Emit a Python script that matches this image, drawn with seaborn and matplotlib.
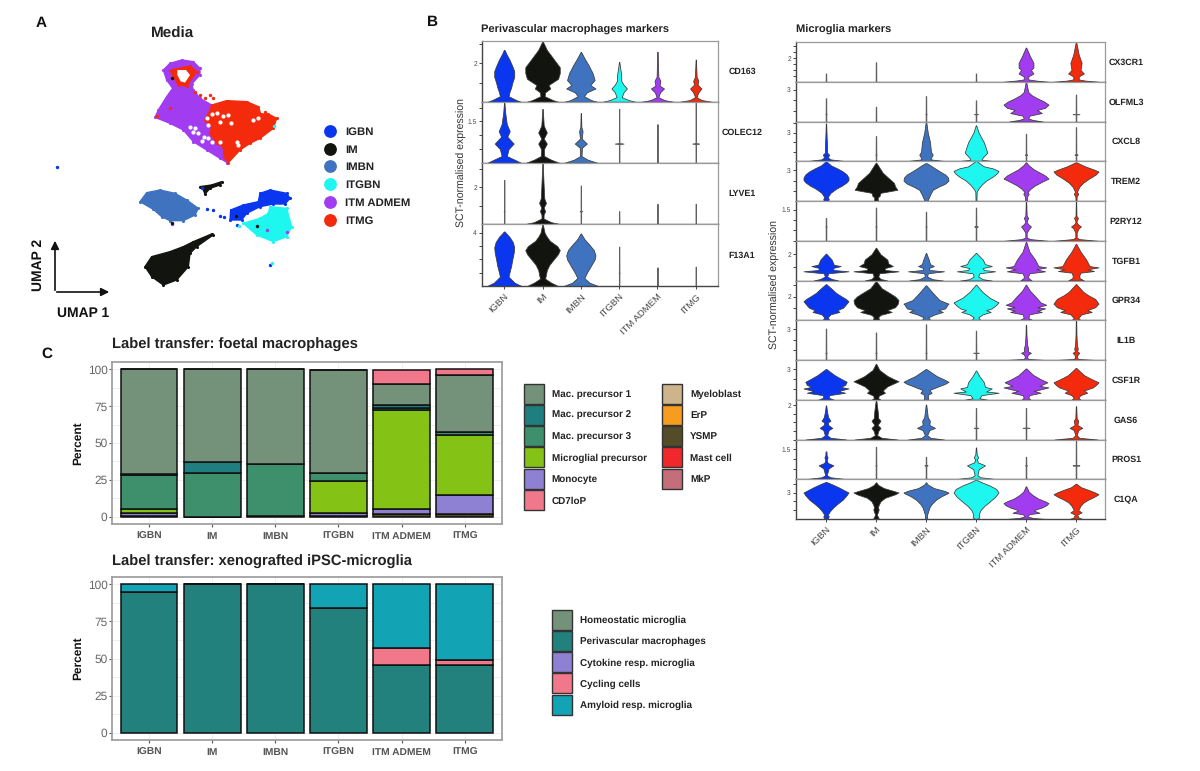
import numpy as np
import pandas as pd
import seaborn as sns
import matplotlib.pyplot as plt
from matplotlib.patches import Rectangle

W, H = 1200, 771

clusters = ["IGBN", "IM", "IMBN", "ITGBN", "ITM ADMEM", "ITMG"]
cluster_colors = ["#0A36F0", "#12140F", "#3F73BF", "#1EF7F0", "#A23CF0", "#F42A0C"]

# --- panel A, cluster outlines (UMAP units are arbitrary)
purple_body = [(430,180),(450,160),(485,150),(520,155),(540,175),(540,195),(515,222),(520,240),(540,265),(575,285),
               (585,320),(570,345),(575,385),(600,405),(618,430),(622,458),(600,445),(560,420),(520,395),(490,360),
               (450,340),(405,322),(415,300),(440,260),(458,235),(440,210)]
red_body = [(575,285),(620,272),(680,275),(715,290),(722,312),(745,312),(770,325),(760,355),(720,385),(690,400),
            (660,420),(625,458),(612,440),(610,410),(590,400),(570,370),(575,350),(555,330),(570,300)]
red_ring = [(450,180),(510,168),(530,185),(500,228),(475,225),(460,200)]
ring_hole = [(472,180),(498,180),(510,195),(495,218),(482,214),(472,195)]
imbn_body = [(360,575),(380,548),(420,540),(465,550),(500,570),(535,595),(525,615),(490,632),(450,632),(425,620),(400,598)]
im_small = [(540,530),(575,525),(605,515),(600,525),(570,535),(555,552),(548,535)]
igbn_body = [(720,550),(750,540),(800,550),(810,565),(795,582),(760,582),(720,590),(680,610),(665,630),(630,630),(632,600),(670,585),(715,575)]
itgbn_body = [(750,590),(800,595),(815,650),(800,680),(760,695),(710,675),(670,640),(720,625),(745,610)]
im_body = [(375,770),(395,740),(450,725),(490,710),(520,695),(575,672),(578,676),(530,710),(510,730),(505,770),(470,810),(430,825),(395,800)]

white_specks = [(510,350),(525,355),(518,365),(535,370),(552,380),(545,392),(565,385),(575,395),(560,325),(575,312),
                (590,310),(610,318),(625,315),(600,335),(632,340),(565,345),(655,405),(650,395),(600,395),(700,330),(715,325)]
stray_red = [(525,245),(540,255),(555,265),(570,255),(580,265),(735,305),(410,318),(450,295)]
stray_blue = [(110,470),(750,765),(600,618),(612,620),(580,600),(560,598),(650,645),(545,535)]
stray_cyan = [(755,758),(762,348),(795,598),(658,648)]
stray_purple = [(455,642),(800,665),(740,660),(450,175)]
stray_dark = [(455,205),(455,638),(648,618),(710,647)]


# --- panel B, violin outlines as (expression level, relative width)
def thin(top, tick=None, w=0.1):
    if tick is None:
        return [(0, 0.012), (top, 0.008)]
    return [(0, 0.012), (tick - 0.02, 0.012), (tick, w), (tick + 0.02, 0.012), (top, 0.008)]


cd163 = [[(0,1),(.1,.7),(.3,.25),(.5,.3),(.75,.4),(1,.47),(1.3,.58),(1.6,.58),(1.9,.45),(2.2,.3),(2.5,.12),(2.7,.02)],
         [(0,.95),(.1,.6),(.3,.12),(.5,.15),(.7,.45),(.88,.35),(1.2,.9),(1.5,1),(1.8,1),(2.1,.75),(2.4,.5),(2.7,.25),(3.15,.01)],
         [(0,1),(.1,.6),(.3,.18),(.5,.35),(.7,.85),(.88,.55),(1.14,.8),(1.5,.68),(1.9,.45),(2.2,.25),(2.6,.01)],
         [(0,1),(.1,.55),(.25,.15),(.5,.25),(.7,.45),(.9,.25),(1.1,.12),(1.4,.12),(1.7,.07),(2.08,.01)],
         [(0,1),(.1,.4),(.25,.05),(.5,.15),(.7,.38),(.85,.12),(1.1,.17),(1.3,.05),(2.6,.01)],
         [(0,1),(.1,.35),(.25,.04),(.5,.15),(.7,.33),(.9,.1),(1.1,.15),(1.3,.05),(2.2,.01)]]
colec12 = [[(0,1),(.12,.6),(.25,.15),(.5,.25),(.7,.55),(.95,.18),(1.15,.32),(1.4,.15),(1.8,.06),(2.2,.01)],
           [(0,1),(.12,.5),(.25,.1),(.5,.08),(.7,.25),(.88,.07),(1.1,.25),(1.35,.07),(1.95,.01)],
           [(0,1),(.12,.4),(.25,.04),(.55,.06),(.7,.35),(.88,.05),(1.15,.1),(1.3,.03),(1.8,.01)],
           thin(1.95, .7, .25), thin(1.4, .7, .03), thin(2.2, .7, .2)]
lyve1 = [thin(2.4, .7, .03),
         [(0,1),(.1,.5),(.3,.06),(.5,.06),(.7,.15),(.9,.07),(1.15,.2),(1.4,.1),(2.2,.06),(3.3,.01)],
         thin(2.1, .7, .07), thin(.7), thin(1.1), thin(1.1)]
f13a1 = [[(0,1),(.25,.6),(.7,.25),(1,.3),(1.5,.4),(2,.47),(2.5,.55),(2.9,.58),(3.3,.5),(3.7,.3),(3.95,.12),(4.1,.02)],
         [(0,.9),(.25,.5),(.55,.15),(1.2,.25),(1.6,.4),(2,.65),(2.4,.9),(2.7,1),(3,.85),(3.4,.42),(3.7,.25),(4,.12),(4.66,.01)],
         [(0,1),(.25,.5),(.6,.2),(1,.35),(1.5,.58),(2,.8),(2.3,.85),(2.7,.75),(3.1,.5),(3.5,.22),(3.95,.01)],
         thin(2.95, 1, .03), thin(1.4), thin(1.45)]

cx3cr1 = [thin(.7), thin(1.65), [], thin(.7),
          [(0,1),(.1,.45),(.2,.1),(.45,.1),(.7,.33),(1,.22),(1.2,.33),(1.6,.33),(2.2,.17),(2.9,.01)],
          [(0,1),(.1,.4),(.2,.12),(.45,.12),(.7,.35),(1,.2),(1.6,.25),(2.3,.12),(3.37,.01)]]
olfml3 = [thin(2.2, .7, .03), thin(1.4), thin(2.4, .7, .03), thin(2, .7, .08),
          [(0,.75),(.15,.3),(.3,.1),(.55,.15),(.8,.7),(1.1,.5),(1.3,.85),(1.6,1),(1.9,.8),(2.2,.5),(2.5,.25),(2.8,.1),(3.77,.01)],
          thin(2.55, .7, .15)]
cxcl8 = [[(0,.9),(.2,.2),(.4,.08),(.7,.14),(.9,.05),(1.5,.05),(2.5,.03),(4,.01)],
         thin(2.65, .7, .03),
         [(0,.9),(.2,.2),(.5,.25),(.7,.3),(1,.22),(2,.18),(3,.08),(4.2,.01)],
         [(0,.85),(.15,.25),(.4,.3),(.9,.5),(1.3,.45),(2,.35),(3,.12),(3.8,.01)],
         thin(2.9, .7, .05), thin(3.6, .7, .07)]
trem2 = [[(0,.1),(.2,.12),(.4,.08),(.8,.2),(1.2,.45),(1.5,.7),(1.8,.9),(2.05,1),(2.3,1),(2.6,.92),(2.9,.75),(3.2,.5),(3.5,.22),(3.9,.01)],
         [(0,.1),(.15,.08),(.4,.08),(.45,.15),(.8,.2),(1.1,.95),(1.43,.85),(1.77,.8),(2.17,.6),(2.77,.3),(3.77,.01)],
         [(0,.06),(.3,.12),(.7,.2),(1.1,.3),(1.4,.55),(1.7,.85),(2,1),(2.3,.98),(2.6,.85),(2.9,.62),(3.2,.4),(3.7,.05)],
         [(0,.02),(.9,.03),(1.2,.1),(1.6,.25),(2,.45),(2.4,.75),(2.7,.92),(2.95,1),(3.2,.75),(3.4,.35),(3.6,.22),(3.95,.01)],
         [(0,.04),(.45,.05),(.7,.12),(.9,.07),(1.2,.2),(1.5,.38),(1.9,.72),(2.2,1),(2.5,.85),(2.8,.6),(3.1,.35),(3.5,.12),(3.8,.01)],
         [(0,.02),(.45,.03),(.7,.1),(.9,.04),(1.4,.15),(1.8,.32),(2.2,.58),(2.6,.88),(2.9,1),(3.1,.78),(3.4,.4),(3.8,.02)]]
p2ry12 = [thin(1.1, .69, .03), thin(1.6, .69, .03), thin(1.4, .69, .03), thin(1.6, .69, .08),
          [(0,.95),(.08,.2),(.15,.03),(.4,.03),(.6,.15),(.69,.22),(.8,.1),(.9,.03),(1,.05),(1.1,.1),(1.2,.03),(1.9,.01)],
          [(0,.95),(.08,.15),(.15,.03),(.4,.03),(.6,.12),(.69,.22),(.8,.08),(.9,.02),(1,.04),(1.1,.09),(1.2,.02),(1.9,.01)]]
tgfb1 = [[(0,.55),(.12,.25),(.3,.05),(.55,.1),(.7,1),(.8,.35),(.95,.3),(1.1,.65),(1.2,.35),(1.6,.25),(2.05,.01)],
         [(0,.5),(.12,.2),(.3,.1),(.55,.15),(.7,1),(.8,.4),(.95,.4),(1.1,.75),(1.3,.55),(1.6,.5),(2,.2),(2.5,.01)],
         [(0,.75),(.1,.3),(.3,.05),(.55,.08),(.7,.8),(.8,.15),(.95,.12),(1.1,.35),(1.25,.18),(1.6,.12),(2.1,.01)],
         [(0,.7),(.1,.3),(.3,.1),(.55,.15),(.7,.85),(.8,.35),(.95,.3),(1.1,.7),(1.25,.4),(1.6,.3),(2.1,.01)],
         [(0,.25),(.2,.1),(.35,.1),(.55,.15),(.7,.85),(.85,.45),(1,.9),(1.1,.55),(1.6,.4),(2.2,.15),(2.95,.01)],
         [(0,.35),(.2,.15),(.4,.15),(.6,.2),(.72,.8),(.85,.5),(1,1),(1.1,.6),(1.6,.45),(2.2,.2),(2.8,.01)]]
gpr34 = [[(0,.15),(.25,.08),(.5,.2),(.7,.6),(.85,.5),(1.05,.75),(1.25,.85),(1.6,1),(1.8,.88),(2,.7),(2.3,.45),(2.6,.28),(3.05,.01)],
         [(0,.15),(.25,.1),(.45,.2),(.7,.7),(.85,.5),(1.1,.85),(1.4,.97),(1.7,1),(2,.85),(2.3,.6),(2.7,.25),(3.3,.01)],
         [(0,.2),(.25,.1),(.5,.4),(.7,.75),(.85,.55),(1,.85),(1.3,.95),(1.4,1),(1.7,.6),(2.2,.35),(2.95,.01)],
         [(0,.2),(.25,.1),(.5,.3),(.7,.65),(.85,.45),(1,.7),(1.3,.9),(1.5,1),(1.9,.6),(2.4,.28),(3,.01)],
         [(0,.3),(.2,.1),(.5,.15),(.7,.7),(.8,.5),(1,.85),(1.1,.5),(1.3,.9),(1.5,.65),(2,.42),(2.5,.17),(3,.01)],
         [(0,.2),(.2,.1),(.5,.25),(.7,.7),(.85,.5),(1.1,.85),(1.4,1),(1.8,.85),(2.1,.55),(2.4,.32),(3.05,.01)]]
il1b = [thin(3.08, .7, .03), thin(2.7, .7, .03), thin(3.5, .7, .03), thin(2.87, .7, .12),
        [(0,.9),(.1,.1),(.3,.04),(.55,.1),(.7,.22),(.85,.08),(1.1,.1),(1.5,.05),(2.5,.02),(3.45,.01)],
        [(0,.9),(.1,.1),(.3,.03),(.55,.08),(.7,.15),(.85,.05),(1.1,.08),(1.5,.04),(2.5,.02),(3.9,.01)]]
csf1r = [[(0,.35),(.2,.12),(.45,.15),(.68,.85),(.85,.55),(1.1,1),(1.25,.65),(1.45,.85),(1.75,.92),(2,.7),(2.4,.38),(3,.01)],
         [(0,.2),(.15,.1),(.4,.12),(.68,.4),(.9,.3),(1.3,.5),(1.6,.8),(1.8,1),(2,.8),(2.3,.52),(2.9,.15),(3.5,.01)],
         [(0,.1),(.3,.08),(.5,.1),(.68,.25),(.95,.15),(1.3,.55),(1.55,.85),(1.75,1),(2,.78),(2.3,.48),(3,.01)],
         [(0,.5),(.15,.15),(.45,.25),(.68,1),(.8,.45),(1.1,.7),(1.25,.4),(1.7,.35),(2.3,.15),(2.85,.01)],
         [(0,.2),(.2,.1),(.45,.15),(.68,.65),(.85,.35),(1.2,1),(1.35,.6),(1.7,.95),(2,.65),(2.4,.33),(3.05,.01)],
         [(0,.2),(.2,.1),(.45,.2),(.68,.5),(.9,.35),(1.2,.75),(1.5,.92),(1.7,1),(2,.7),(2.4,.35),(3.1,.01)]]
gas6 = [[(0,.9),(.1,.2),(.25,.05),(.55,.12),(.68,.28),(.85,.1),(1,.08),(1.1,.2),(1.3,.1),(1.6,.05),(2,.01)],
        [(0,.95),(.1,.25),(.25,.05),(.5,.1),(.68,.2),(.85,.07),(1.1,.2),(1.25,.1),(1.6,.08),(2.33,.01)],
        [(0,.8),(.1,.2),(.25,.05),(.55,.15),(.68,.4),(.85,.15),(1.1,.17),(1.3,.08),(2.05,.01)],
        thin(1.85, .68, .1), thin(1.85, .68, .15),
        [(0,.95),(.1,.15),(.25,.03),(.55,.1),(.68,.28),(.85,.06),(1.1,.1),(1.25,.03),(1.95,.01)]]
pros1 = [[(0,.95),(.1,.2),(.2,.03),(.55,.12),(.7,.33),(.82,.08),(.95,.03),(1.1,.07),(1.2,.03),(1.4,.02)],
         thin(1.63, .7, .03), thin(1.13, .7, .07),
         [(0,.95),(.1,.2),(.2,.06),(.5,.12),(.7,.4),(.85,.08),(1,.03),(1.1,.1),(1.25,.03),(1.6,.01)],
         thin(1.13, .7, .04), thin(2, .7, .15)]
c1qa = [[(0,.08),(.3,.12),(.5,.08),(.9,.18),(1.3,.32),(1.7,.5),(2.2,.75),(2.7,.92),(3,1),(3.2,.85),(3.6,.55),(3.95,.25),(4.2,.01)],
        [(0,.15),(.15,.1),(.5,.04),(.9,.1),(1.1,.12),(1.3,.08),(1.6,.12),(2,.2),(2.4,.4),(2.8,.85),(3,1),(3.2,.75),(3.5,.35),(3.85,.1),(4.15,.01)],
        [(0,.05),(.5,.05),(.9,.1),(1.3,.15),(1.7,.25),(2.2,.45),(2.6,.7),(2.9,.95),(3,1),(3.2,.8),(3.5,.35),(3.9,.08),(4.15,.01)],
        [(0,.05),(.2,.15),(.5,.12),(1,.2),(1.5,.38),(2,.62),(2.5,.85),(3,1),(3.4,.9),(3.8,.6),(4.1,.3),(4.45,.01)],
        [(0,.9),(.12,.3),(.3,.05),(.55,.15),(.7,.6),(.95,.35),(1.05,.4),(1.3,.7),(1.55,.9),(1.8,1),(2,.85),(2.3,.55),(2.7,.3),(3.1,.12),(3.7,.01)],
        [(0,.3),(.15,.12),(.5,.05),(.75,.25),(1,.1),(1.5,.2),(1.9,.35),(2.2,.55),(2.5,.8),(2.8,1),(3,.85),(3.3,.55),(3.6,.22),(4,.01)]]

# name, labelled tick, tick step, top of the axis, violins
pvm_rows = [("CD163", 2, 1, 3.16, cd163), ("COLEC12", 1.5, .5, 2.2, colec12),
            ("LYVE1", 2, 1, 3.33, lyve1), ("F13A1", 4, 1, 4.66, f13a1)]
mg_rows = [("CX3CR1", 2, .5, 3.37, cx3cr1), ("OLFML3", 3, 1, 3.77, olfml3), ("CXCL8", 3, 1, 4.2, cxcl8),
           ("TREM2", 3, 1, 3.9, trem2), ("P2RY12", 1.5, .5, 1.92, p2ry12), ("TGFB1", 2, 1, 3.03, tgfb1),
           ("GPR34", 2, 1, 3.35, gpr34), ("IL1B", 3, 1, 3.9, il1b), ("CSF1R", 3, 1, 3.87, csf1r),
           ("GAS6", 2, .5, 2.33, gas6), ("PROS1", 1.5, .5, 2.0, pros1), ("C1QA", 3, 1, 4.5, c1qa)]

# --- panel C
foetal_types = ["CD7loP", "Mac. precursor 1", "Mac. precursor 2", "Mac. precursor 3",
                "Microglial precursor", "Monocyte", "YSMP"]
cd7lop = [0, 0, 0, 0, 9.7, 4]
mac1 = [71.3, 63, 64, 70, 14.5, 38.2]
mac2 = [0.2, 7.7, 0.5, 0, 1.8, 0.5]
mac3 = [23, 29.3, 35, 5.7, 1.7, 1.8]
micro_prec = [2.8, 0, 0, 21.7, 67, 41]
monocyte = [2.2, 0, 0, 1.9, 3.7, 13]
ysmp = [0.5, 0, 0.5, 0.4, 1.5, 1.5]

xeno_types = ["Amyloid resp. microglia", "Cycling cells", "Perivascular macrophages"]
amyloid = [5, 0, 0, 16, 43, 50.8]
cycling = [0, 0, 0, 0, 11.5, 3.7]
pvm = [95, 100, 100, 84, 45.5, 45.5]

foetal_legend = [("Mac. precursor 1", "#739279"), ("Mac. precursor 2", "#1F7F80"), ("Mac. precursor 3", "#3E8F6C"),
                 ("Microglial precursor", "#84C315"), ("Monocyte", "#8E81D3"), ("CD7loP", "#F1788B")]
foetal_legend2 = [("Myeloblast", "#CDB48A"), ("ErP", "#F89C1F"), ("YSMP", "#544C27"),
                  ("Mast cell", "#F1282B"), ("MkP", "#C46E7C")]
xeno_legend = [("Homeostatic microglia", "#739279"), ("Perivascular macrophages", "#22807D"),
               ("Cytokine resp. microglia", "#8E81D3"), ("Cycling cells", "#F1788B"),
               ("Amyloid resp. microglia", "#12A3B5")]

sns.set_theme(style="white")
plt.rcParams["font.family"] = ["Liberation Sans", "DejaVu Sans"]
plt.rcParams["text.hinting"] = "no_hinting"

fig = plt.figure(figsize=(W / 100, H / 100), dpi=100)


def px_axes(x0, y0, x1, y1):
    return fig.add_axes([x0 / W, 1 - y1 / H, (x1 - x0) / W, (y1 - y0) / H])


# overlay in picture pixels for the annotation text and legends
over = px_axes(0, 0, W, H)
over.set_xlim(0, W)
over.set_ylim(H, 0)
over.axis("off")
over.set_zorder(5)
over.patch.set_alpha(0)

# panel A
umap = px_axes(20, 10, 440, 330)
umap.set_xlim(0, 1260)
umap.set_ylim(960, 0)
umap.axis("off")
for outline, col in [(purple_body, cluster_colors[4]), (red_body, cluster_colors[5]), (red_ring, cluster_colors[5]),
                     (imbn_body, cluster_colors[2]), (im_small, cluster_colors[1]), (igbn_body, cluster_colors[0]),
                     (itgbn_body, cluster_colors[3]), (im_body, cluster_colors[1])]:
    xy = np.array(outline)
    umap.fill(xy[:, 0], xy[:, 1], color=col, lw=1)
    sns.scatterplot(x=xy[:, 0], y=xy[:, 1], color=col, s=5, linewidth=0, ax=umap, legend=False)
xy = np.array(ring_hole)
umap.fill(xy[:, 0], xy[:, 1], color="white", lw=0, zorder=3)
xy = np.array(white_specks)
sns.scatterplot(x=xy[:, 0], y=xy[:, 1], color="white", s=9, linewidth=0, ax=umap, legend=False, zorder=3)
for pts, col in [(stray_red, 5), (stray_blue, 0), (stray_cyan, 3), (stray_purple, 4), (stray_dark, 1)]:
    xy = np.array(pts)
    sns.scatterplot(x=xy[:, 0], y=xy[:, 1], color=cluster_colors[col], s=6, linewidth=0, ax=umap,
                    legend=False, zorder=4)

over.text(41, 23, "A", fontsize=11, fontweight="bold", ha="center", va="center", color="#111111")
over.text(432, 22, "B", fontsize=11, fontweight="bold", ha="center", va="center", color="#111111")
over.text(47, 354, "C", fontsize=11, fontweight="bold", ha="center", va="center", color="#111111")
over.text(173, 34, "Media", fontsize=11, fontweight="bold", ha="center", va="center", color="#222222")
for i, (name, col) in enumerate(zip(clusters, cluster_colors)):
    y = 131 + i * 17.7
    over.scatter([330], [y], s=85, color=col, linewidth=0)
    over.text(345, y + 4, name, fontsize=8.2, fontweight="bold", va="baseline", color="#222222")
over.annotate("", xy=(55, 238), xytext=(55, 293), arrowprops=dict(arrowstyle="-|>", color="#111111", lw=1.2))
over.annotate("", xy=(112, 292), xytext=(54, 292), arrowprops=dict(arrowstyle="-|>", color="#111111", lw=1.2))
over.text(38, 265, "UMAP 2", fontsize=10, fontweight="bold", rotation=90, ha="center", va="center", color="#111111")
over.text(83, 313, "UMAP 1", fontsize=10, fontweight="bold", ha="center", va="center", color="#111111")


# panel B
def draw_stack(rows, x0, x1, y_edges, xlim, name_x, max_half):
    axes = []
    for k, (gene, tick, step, top, violins) in enumerate(rows):
        ax = px_axes(x0, y_edges[k], x1, y_edges[k + 1])
        for i, profile in enumerate(violins):
            if not profile:
                continue
            lev = np.array([p[0] for p in profile])
            wid = np.array([p[1] for p in profile]) * max_half
            if wid[0] < 0.02 * max_half:
                ax.fill_betweenx(lev, i - wid, i + wid, color="#606060", lw=0.7)
            else:
                ax.fill_betweenx(lev, i - wid, i + wid, facecolor=cluster_colors[i], edgecolor="#3a3a3a", lw=0.55)
        ax.set_xlim(*xlim)
        ax.set_ylim(0, top)
        ticks = np.arange(step, top + 1e-6, step)
        ax.set_yticks(ticks)
        ax.set_yticklabels([f"{t:g}" if abs(t - tick) < 1e-6 else "" for t in ticks], fontsize=4.8, color="#444444")
        ax.tick_params(axis="y", length=2.2, width=0.7, color="#444444", pad=1.5, left=True)
        ax.set_xticks(range(6))
        ax.set_xticklabels([])
        ax.tick_params(axis="x", length=0)
        for side in ["top", "right"]:
            ax.spines[side].set_color("#9a9a9a")
            ax.spines[side].set_linewidth(0.9)
        for side in ["left", "bottom"]:
            ax.spines[side].set_color("#444444")
            ax.spines[side].set_linewidth(1.0)
        over.text(name_x, (y_edges[k] + y_edges[k + 1]) / 2 + 0.5, gene, fontsize=6.4, fontweight="bold",
                  ha="center", va="center", color="#222222")
        axes.append(ax)
    last = axes[-1]
    last.tick_params(axis="x", length=2.5, width=0.7, color="#444444", pad=2, bottom=True)
    last.set_xticklabels(clusters, rotation=45, ha="right", rotation_mode="anchor", fontsize=6.8, color="#444444")
    return axes


draw_stack(pvm_rows, 482, 718, [41, 102, 163, 224, 286], (-0.58, 5.58), 742, 0.45)
draw_stack(mg_rows, 796, 1105, np.linspace(42, 519, 13), (-0.6, 5.58), 1126, 0.45)
over.text(481, 30, "Perivascular macrophages markers", fontsize=8, fontweight="bold", va="center", color="#222222")
over.text(796, 30, "Microglia markers", fontsize=8, fontweight="bold", va="center", color="#222222")
over.text(462, 163, "SCT-normalised expression", fontsize=7.6, rotation=90, ha="center", va="center", color="#333333")
over.text(775, 285, "SCT-normalised expression", fontsize=7.6, rotation=90, ha="center", va="center", color="#333333")


# panel C
def stacked(values, types, colors, box, title, title_y):
    rows = []
    for name, vals in zip(types, values):
        for cl, v in zip(clusters, vals):
            if v > 0:
                rows.append({"cluster": cl, "type": name, "percent": v})
    df = pd.DataFrame(rows)
    df["cluster"] = pd.Categorical(df["cluster"], categories=clusters, ordered=True)
    ax = px_axes(*box)
    sns.histplot(data=df, x="cluster", hue="type", weights="percent", hue_order=types, palette=colors,
                 multiple="stack", discrete=True, shrink=0.9, edgecolor="#101010", linewidth=1.1, alpha=1,
                 legend=False, ax=ax)
    ax.set_xlim(-0.586, 5.59)
    ax.set_ylim(-5, 105)
    ax.set_yticks([0, 25, 50, 75, 100])
    ax.set_yticks([12.5, 37.5, 62.5, 87.5], minor=True)
    ax.set_xticks(range(6))
    ax.set_xticklabels([])
    # baseline anchored so every cluster name sits on the same line
    for i, name in enumerate(clusters):
        ax.annotate(name, xy=(i, 0), xycoords=("data", "axes fraction"), xytext=(0, -15),
                    textcoords="offset pixels", ha="center", va="baseline", fontsize=7.4,
                    fontweight="bold", color="#555555", annotation_clip=False)
    ax.tick_params(axis="y", labelsize=8.6, labelcolor="#666666", length=2.2, width=0.8, color="#555555", left=True, pad=1)
    ax.tick_params(axis="y", which="minor", length=0)
    ax.tick_params(axis="x", length=2.5, width=0.8, color="#555555", bottom=True, pad=2)
    ax.grid(True, which="both", color="#ececec", lw=0.6)
    ax.set_axisbelow(True)
    ax.set_xlabel("")
    ax.set_ylabel("")
    over.text(78, (box[1] + box[3]) / 2, "Percent", fontsize=8.6, fontweight="bold", rotation=90,
              ha="center", va="center", color="#111111")
    for spine in ax.spines.values():
        spine.set_color("#a0a0a0")
        spine.set_linewidth(1.3)
    over.text(112, title_y, title, fontsize=10.6, fontweight="bold", va="center", color="#222222")


foetal_colors = dict(foetal_legend + foetal_legend2)
stacked([cd7lop, mac1, mac2, mac3, micro_prec, monocyte, ysmp], foetal_types, foetal_colors,
        (112, 362, 502, 524), "Label transfer: foetal macrophages", 345)
xeno_colors = dict(xeno_legend)
stacked([amyloid, cycling, pvm], xeno_types, xeno_colors,
        (112, 577, 502, 740), "Label transfer: xenografted iPSC-microglia", 562)


def swatches(items, x, y0):
    for i, (name, col) in enumerate(items):
        y = y0 + i * 21.3
        over.add_patch(Rectangle((x, y - 10), 20, 20, facecolor=col, edgecolor="#333333", lw=1.0))
        over.text(x + 28, y + 3.5, name, fontsize=7.1, fontweight="bold", va="baseline", color="#222222")


swatches(foetal_legend, 523.5, 393.5)
swatches(foetal_legend2, 662, 393.5)
swatches(xeno_legend, 552, 619.5)

fig.savefig("out.png", dpi=100)
